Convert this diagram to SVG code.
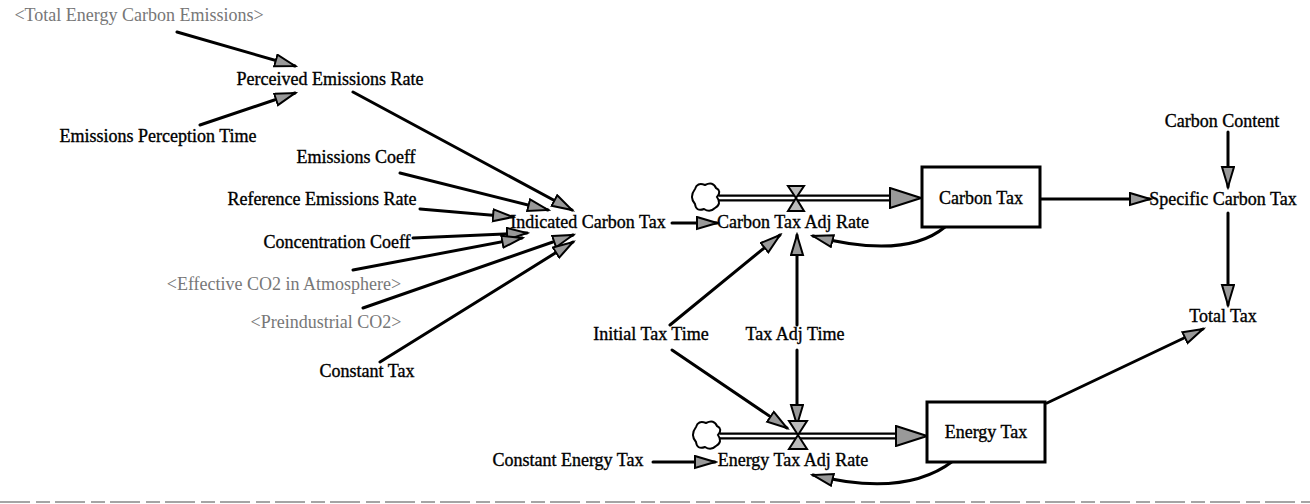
<svg xmlns="http://www.w3.org/2000/svg" width="1310" height="504" viewBox="0 0 1310 504">
<style>
text{font-family:"Liberation Serif","Times New Roman",serif;font-size:18px;fill:#000;stroke:#000;stroke-width:0.35;text-anchor:middle}
text.sh{fill:#777;stroke:none}
.c{fill:none;stroke:#000;stroke-width:3;stroke-linecap:round}
.box{fill:#fff;stroke:#000;stroke-width:3}
.pipeo{stroke:#000;stroke-width:7;fill:none}
.pipei{stroke:#fff;stroke-width:2.5;fill:none}
.valve{fill:#bbb;stroke:#000;stroke-width:2}
.cloud{fill:#fff;stroke:#000;stroke-width:2}
</style>
<defs>
<marker id="ah" markerUnits="userSpaceOnUse" markerWidth="24" markerHeight="16" refX="21" refY="7" orient="auto">
<path d="M1,1 L21,7 L1,13 Z" fill="#999" stroke="#000" stroke-width="2"/>
</marker>
<marker id="fh" markerUnits="userSpaceOnUse" markerWidth="34" markerHeight="22" refX="32" refY="11" orient="auto">
<path d="M1,1 L32,11 L1,21 Z" fill="#999" stroke="#000" stroke-width="2"/>
</marker>
</defs>
<line x1="0" y1="502" x2="1310" y2="502" stroke="#888" stroke-width="1.5" stroke-dasharray="30 6 14 5"/>
<g id="connectors">
<line class="c" x1="177" y1="32" x2="295" y2="66" marker-end="url(#ah)"/>
<line class="c" x1="200" y1="125" x2="295" y2="93" marker-end="url(#ah)"/>
<line class="c" x1="353" y1="92" x2="572" y2="210" marker-end="url(#ah)"/>
<line class="c" x1="400" y1="173" x2="548" y2="210" marker-end="url(#ah)"/>
<line class="c" x1="420" y1="209" x2="513" y2="217" marker-end="url(#ah)"/>
<line class="c" x1="413" y1="238" x2="527" y2="233" marker-end="url(#ah)"/>
<line class="c" x1="353" y1="270" x2="522" y2="238" marker-end="url(#ah)"/>
<line class="c" x1="363" y1="308" x2="573" y2="235" marker-end="url(#ah)"/>
<line class="c" x1="380" y1="362" x2="573" y2="242" marker-end="url(#ah)"/>
<line class="c" x1="672" y1="223" x2="717" y2="223" marker-end="url(#ah)"/>
<line class="c" x1="670" y1="325" x2="780" y2="235" marker-end="url(#ah)"/>
<line class="c" x1="797" y1="325" x2="797" y2="235" marker-end="url(#ah)"/>
<path class="c" d="M945,227 Q905,260 813,236" marker-end="url(#ah)"/>
<line class="c" x1="1040" y1="199" x2="1150" y2="199" marker-end="url(#ah)"/>
<line class="c" x1="1228" y1="132" x2="1228" y2="187" marker-end="url(#ah)"/>
<line class="c" x1="1228" y1="213" x2="1228" y2="305" marker-end="url(#ah)"/>
<line class="c" x1="1047" y1="403" x2="1203" y2="329" marker-end="url(#ah)"/>
<line class="c" x1="672" y1="350" x2="787" y2="428" marker-end="url(#ah)"/>
<line class="c" x1="797" y1="350" x2="797" y2="425" marker-end="url(#ah)"/>
<line class="c" x1="653" y1="462" x2="715" y2="462" marker-end="url(#ah)"/>
<path class="c" d="M953,461 Q905,498 813,475" marker-end="url(#ah)"/>
</g>
<g id="flow-carbon">
<line class="pipeo" x1="719" y1="198" x2="890" y2="198"/>
<line class="pipei" x1="719" y1="198" x2="890" y2="198"/>
<line x1="880" y1="198" x2="921" y2="198" stroke="none" marker-end="url(#fh)"/>
<path class="cloud" d="M695,189 q2,-7 10,-4 q8,-4 11,3 q6,3 1,9 q5,7 -2,11 q-5,5 -11,1 q-8,3 -9,-5 q-6,-7 0,-15 z"/>
<path class="valve" d="M788,186 L804,186 L796,198 Z M796,198 L788,211 L804,211 Z"/>
</g>
<g id="flow-energy">
<line class="pipeo" x1="720" y1="436" x2="897" y2="436"/>
<line class="pipei" x1="720" y1="436" x2="897" y2="436"/>
<line x1="885" y1="436" x2="927" y2="436" stroke="none" marker-end="url(#fh)"/>
<path class="cloud" d="M696,427 q2,-7 10,-4 q8,-4 11,3 q6,3 1,9 q5,7 -2,11 q-5,5 -11,1 q-8,3 -9,-5 q-6,-7 0,-15 z"/>
<path class="valve" d="M789,421 L807,421 L798,435 Z M798,435 L789,449 L807,449 Z"/>
</g>
<g id="n-total-energy"><text class="sh" x="139" y="21">&lt;Total Energy Carbon Emissions&gt;</text></g>
<g id="n-perceived"><text x="330" y="85">Perceived Emissions Rate</text></g>
<g id="n-ept"><text x="158" y="142">Emissions Perception Time</text></g>
<g id="n-emcoeff"><text x="356" y="163">Emissions Coeff</text></g>
<g id="n-refem"><text x="322" y="205">Reference Emissions Rate</text></g>
<g id="n-conc"><text x="337" y="248">Concentration Coeff</text></g>
<g id="n-effco2"><text class="sh" x="284" y="290">&lt;Effective CO2 in Atmosphere&gt;</text></g>
<g id="n-preind"><text class="sh" x="326" y="328">&lt;Preindustrial CO2&gt;</text></g>
<g id="n-consttax"><text x="367" y="377">Constant Tax</text></g>
<g id="n-indicated"><text x="588" y="228">Indicated Carbon Tax</text></g>
<g id="n-ctar"><text x="793" y="228">Carbon Tax Adj Rate</text></g>
<g id="n-carbontax"><rect class="box" x="922" y="167" width="118" height="60"/><text x="981" y="204">Carbon Tax</text></g>
<g id="n-specific"><text x="1223" y="205">Specific Carbon Tax</text></g>
<g id="n-content"><text x="1222" y="127">Carbon Content</text></g>
<g id="n-totaltax"><text x="1223" y="322">Total Tax</text></g>
<g id="n-itt"><text x="651" y="340">Initial Tax Time</text></g>
<g id="n-tat"><text x="795" y="340">Tax Adj Time</text></g>
<g id="n-energytax"><rect class="box" x="927" y="402" width="118" height="60"/><text x="986" y="438">Energy Tax</text></g>
<g id="n-etar"><text x="793" y="466">Energy Tax Adj Rate</text></g>
<g id="n-cet"><text x="568" y="466">Constant Energy Tax</text></g>
</svg>
